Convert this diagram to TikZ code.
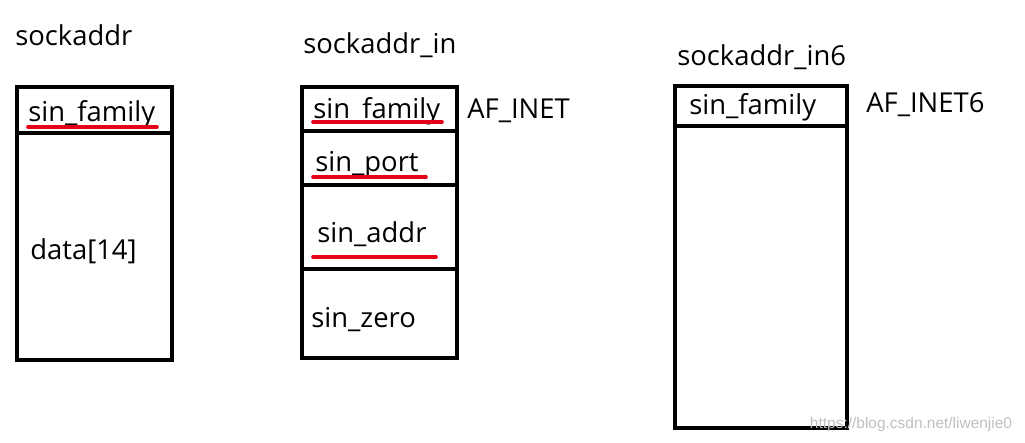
\documentclass[tikz,border=0pt]{standalone}
\usepackage{fontspec}
\setmainfont{Open Sans}
\newfontfamily\wmfont{Liberation Sans}
\usepackage{xcolor}
\definecolor{myred}{RGB}{228, 0, 22}
\tikzset{
  field/.style={anchor=base west, inner sep=0pt, font=\fontsize{19.5}{22}\selectfont},
  frame/.style={line width=0.1cm},
  mark red/.style={line width=0.09cm, color=myred, line cap=round}
}

\begin{document}
\begin{tikzpicture}[x=0.025cm, y=-0.025cm]
\useasboundingbox (0,0) rectangle (1025,442);

\coordinate (A1) at (17,87);
\coordinate (A2) at (172,360);
\coordinate (B1) at (302,87);
\coordinate (B2) at (457,358);
\coordinate (C1) at (675,86);
\coordinate (C2) at (847,428);

\draw[frame] (A1) rectangle (A2);
\draw[frame] (17,133) -- (172,133);

\draw[frame] (B1) rectangle (B2);
\draw[frame] (302,131) -- (457,131);
\draw[frame] (302,185) -- (457,185);
\draw[frame] (302,269) -- (457,269);

\draw[frame] (C1) rectangle (C2);
\draw[frame] (675,126) -- (847,126);

\node[field] (t1) at (15,45) {sockaddr};
\node[field] (t2) at (303,53) {sockaddr\_in};
\node[field] (t3) at (677,65) {sockaddr\_in6};

\node[field] (fam1) at (28,121) {sin\_family};
\node[field] (data1) at (30,259) {data[14]};

\node[field] (fam2) at (313,118) {sin\_family};
\node[field] (port2) at (315,171) {sin\_port};
\node[field] (addr2) at (317,242) {sin\_addr};
\node[field] (zero2) at (311,327) {sin\_zero};
\node[field] (af2) at (467,118) {AF\_INET};

\node[field] (fam3) at (689,114) {sin\_family};
\node[field] (af3) at (866,112) {AF\_INET6};

\draw[mark red] (28,127) -- (157,127);
\draw[mark red] (313,122) -- (442,122);
\draw[mark red] (313,177) -- (426,177);
\draw[mark red] (313,257) -- (436,257);

\node[font=\wmfont\fontsize{11}{12}\selectfont, text=black!25, inner sep=0pt] (wm) at (911,424) {https://blog.csdn.net/liwenjie0};

\end{tikzpicture}
\end{document}
